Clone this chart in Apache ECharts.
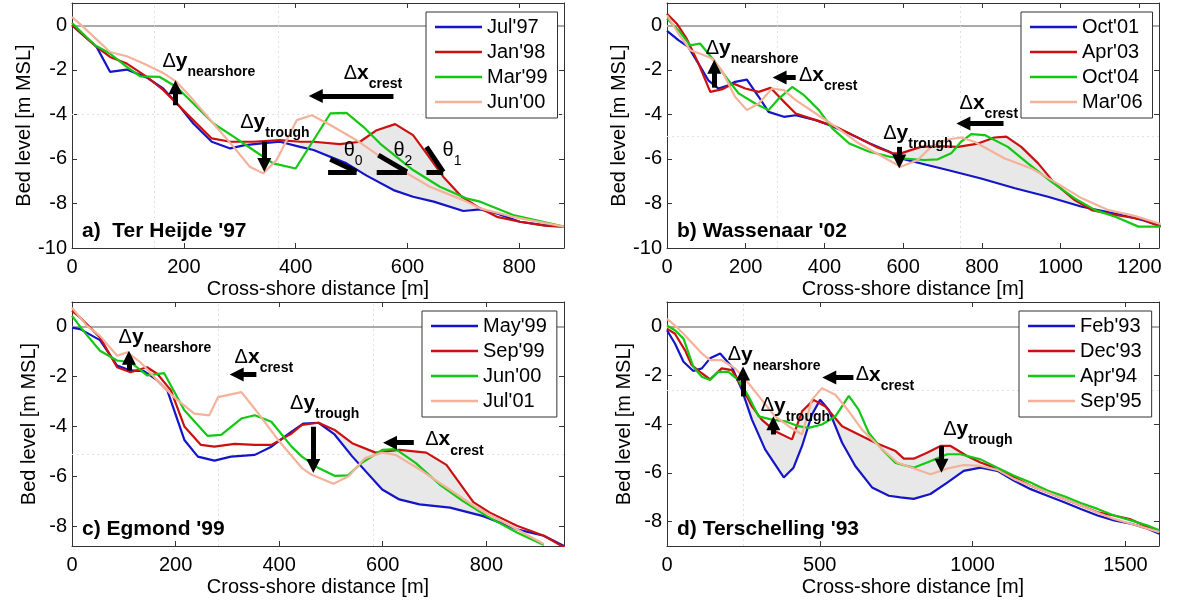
<!DOCTYPE html>
<html>
<head>
<meta charset="utf-8">
<script src="https://cdn.jsdelivr.net/npm/echarts@6/dist/echarts.min.js"></script>
<style>
  html, body { margin: 0; padding: 0; background: #fff; }
  #chart { width: 1200px; height: 600px; }
</style>
</head>
<body>
<div id="chart"></div>
<script>
const FONT = 'Liberation Sans, Arial, sans-serif'
const COLORS = ['#1414c8', '#cc1010', '#12c812', '#f4b29a']

// a) Ter Heijde '97
const namesA = ["Jul'97", "Jan'98", "Mar'99", "Jun'00"]
const jul97 = [[0,0],[44,-0.97],[68,-2.09],[98,-1.99],[134,-2.35],[163,-2.84],[193,-3.66],[217,-4.41],[250,-5.23],[283,-5.53],[309,-5.38],[348,-5.28],[372,-5.23],[408,-5.46],[432,-5.6],[491,-6.2],[527,-6.75],[575,-7.4],[610,-7.7],[647,-7.92],[700,-8.34],[730,-8.27],[760,-8.45],[801,-8.82],[843,-8.97],[880,-9.04]]
const jan98 = [[0,0],[44,-0.97],[68,-1.42],[98,-1.72],[134,-2.32],[163,-2.9],[193,-3.66],[223,-4.41],[250,-5.08],[283,-5.23],[324,-5.23],[372,-5.16],[408,-5.23],[432,-5.23],[479,-5.34],[515,-5.23],[545,-4.71],[578,-4.44],[610,-4.93],[634,-5.75],[664,-6.8],[697,-7.7],[730,-8.22],[760,-8.6],[801,-8.82],[849,-9.01],[880,-9.04]]
const mar99 = [[0,0.1],[41,-0.9],[68,-1.27],[98,-1.87],[122,-2.29],[157,-2.32],[187,-2.77],[217,-3.51],[253,-4.41],[289,-5.0],[324,-5.6],[360,-6.2],[400,-6.43],[462,-3.96],[491,-3.93],[521,-4.56],[551,-5.31],[610,-6.5],[658,-7.25],[705,-7.77],[730,-7.92],[789,-8.52],[880,-9.04]]
const jun00a = [[0,0.37],[20,-0.07],[68,-1.2],[98,-1.39],[128,-1.72],[163,-2.14],[187,-2.54],[217,-3.36],[253,-4.41],[289,-5.46],[318,-6.35],[342,-6.65],[366,-6.05],[390,-4.86],[402,-4.26],[429,-4.04],[462,-4.48],[509,-5.16],[539,-5.68],[569,-6.2],[640,-7.25],[700,-7.85],[730,-8.22],[789,-8.6],[880,-9.04]]

// b) Wassenaar '02
const namesB = ["Oct'01", "Apr'03", "Oct'04", "Mar'06"]
const oct01 = [[0,-0.25],[29,-0.67],[54,-0.97],[80,-1.72],[105,-2.47],[131,-2.84],[156,-2.69],[173,-2.54],[203,-2.44],[233,-3.21],[258,-3.89],[297,-4.11],[327,-4.04],[378,-4.26],[412,-4.48],[463,-4.86],[514,-5.3],[565,-5.68],[594,-5.98],[713,-6.5],[798,-6.88],[884,-7.32],[968,-7.7],[1054,-8.15],[1139,-8.45],[1207,-8.74],[1254,-9.01]]
const apr03 = [[0,0.52],[25,0.07],[50,-0.6],[80,-1.72],[110,-2.99],[139,-2.88],[169,-2.62],[199,-2.84],[233,-2.99],[263,-2.81],[293,-3.36],[327,-3.96],[378,-4.26],[429,-4.56],[480,-5.0],[531,-5.46],[573,-5.75],[594,-5.75],[645,-5.46],[688,-5.43],[739,-5.46],[790,-5.31],[832,-5.04],[862,-5.0],[900,-5.46],[943,-6.2],[985,-7.1],[1036,-7.85],[1079,-8.3],[1139,-8.52],[1207,-8.71],[1254,-9.04]]
const oct04 = [[0,0.3],[29,-0.22],[59,-0.9],[84,-0.82],[122,-1.64],[156,-2.47],[182,-3.06],[224,-3.51],[258,-3.81],[284,-3.29],[318,-2.77],[348,-3.14],[386,-3.81],[420,-4.63],[463,-5.31],[514,-5.68],[565,-5.9],[594,-5.98],[654,-6.05],[688,-6.02],[722,-5.75],[747,-5.23],[773,-4.89],[807,-4.93],[866,-5.46],[917,-6.2],[977,-7.03],[1036,-7.77],[1088,-8.3],[1139,-8.6],[1198,-9.04],[1254,-9.04]]
const mar06 = [[0,0.45],[29,-0.37],[59,-1.12],[88,-1.3],[114,-1.49],[139,-2.02],[173,-3.21],[203,-3.81],[233,-3.51],[267,-2.84],[297,-2.91],[327,-3.36],[378,-3.96],[429,-4.56],[488,-5.31],[548,-5.9],[594,-6.35],[637,-6.05],[671,-5.46],[713,-5.13],[747,-5.04],[781,-5.23],[858,-5.98],[926,-6.43],[985,-7.03],[1054,-7.77],[1122,-8.3],[1190,-8.57],[1254,-8.92]]

// c) Egmond '99
const namesC = ["May'99", "Sep'99", "Jun'00", "Jul'01"]
const may99 = [[0,-0.03],[16,-0.09],[54,-0.53],[87,-1.55],[113,-1.75],[139,-1.78],[165,-2.15],[184,-2.55],[217,-4.54],[243,-5.21],[275,-5.37],[307,-5.21],[353,-5.14],[385,-4.81],[424,-4.21],[447,-3.88],[476,-3.85],[507,-4.32],[541,-5.2],[599,-6.53],[632,-6.93],[671,-7.13],[730,-7.26],[794,-7.6],[859,-8.13],[911,-8.39],[950,-8.8]]
const sep99 = [[0,0.64],[16,0.37],[54,-0.42],[87,-1.62],[113,-1.82],[145,-1.62],[165,-1.89],[191,-2.55],[217,-4.0],[249,-4.74],[275,-4.81],[314,-4.7],[353,-4.74],[385,-4.74],[424,-4.28],[444,-3.94],[476,-3.85],[507,-4.14],[541,-4.67],[586,-5.05],[632,-4.94],[684,-5.05],[723,-5.54],[775,-7.04],[807,-7.46],[859,-7.99],[911,-8.39],[950,-8.85]]
const jun00c = [[0,0.44],[22,-0.16],[54,-0.96],[87,-1.35],[113,-1.42],[145,-1.95],[178,-1.86],[217,-3.35],[262,-4.38],[288,-4.34],[327,-3.68],[353,-3.55],[385,-3.81],[424,-4.81],[444,-5.21],[476,-5.67],[507,-5.98],[533,-5.96],[559,-5.47],[599,-4.94],[625,-4.91],[664,-5.47],[710,-6.33],[755,-7.0],[801,-7.6],[859,-8.26],[911,-8.76]]
const jul01 = [[0,0.77],[29,0.04],[54,-0.36],[87,-1.16],[107,-1.02],[132,-1.42],[165,-2.15],[197,-2.82],[236,-3.48],[265,-3.55],[282,-2.82],[327,-2.62],[360,-3.48],[398,-4.54],[444,-5.67],[463,-5.94],[505,-6.3],[534,-6.0],[566,-5.27],[599,-5.05],[625,-5.14],[677,-5.8],[729,-6.53],[781,-7.26],[859,-8.13],[911,-8.72]]

// d) Terschelling '93
const namesD = ["Feb'93", "Dec'93", "Apr'94", "Sep'95"]
const feb93 = [[0,-0.16],[26,-0.7],[54,-1.45],[86,-1.83],[114,-1.72],[141,-1.31],[174,-1.11],[212,-1.65],[245,-2.6],[278,-3.82],[321,-5.04],[382,-6.19],[414,-5.79],[442,-4.9],[474,-3.62],[501,-3.01],[529,-3.41],[573,-4.77],[616,-5.72],[671,-6.6],[726,-6.94],[764,-7.01],[807,-7.07],[862,-6.87],[917,-6.4],[971,-5.92],[1026,-5.79],[1081,-5.92],[1136,-6.33],[1190,-6.67],[1245,-6.94],[1300,-7.21],[1354,-7.48],[1409,-7.75],[1463,-7.95],[1518,-8.09],[1573,-8.29],[1611,-8.5]]
const dec93 = [[0,-0.09],[26,-0.3],[59,-0.98],[81,-1.59],[114,-1.92],[141,-2.17],[179,-1.72],[212,-1.79],[245,-2.47],[278,-3.28],[310,-3.82],[354,-4.3],[409,-4.63],[442,-3.48],[480,-3.01],[518,-3.28],[573,-4.09],[627,-4.43],[682,-4.77],[748,-5.11],[775,-5.42],[807,-5.42],[851,-5.18],[895,-4.9],[928,-4.9],[982,-5.31],[1026,-5.58],[1081,-5.83],[1136,-6.19],[1190,-6.53],[1245,-6.8],[1300,-7.07],[1354,-7.34],[1409,-7.62],[1463,-7.75],[1518,-7.91],[1573,-8.22],[1611,-8.43]]
const apr94 = [[0,0.04],[26,-0.16],[54,-0.5],[86,-1.65],[114,-2.06],[141,-2.2],[168,-1.86],[201,-1.86],[234,-2.2],[267,-2.87],[300,-3.69],[343,-3.82],[387,-3.89],[430,-4.09],[463,-4.16],[507,-4.02],[551,-3.69],[595,-2.85],[627,-3.41],[660,-4.36],[704,-5.04],[748,-5.6],[807,-5.79],[851,-5.58],[917,-5.24],[960,-5.24],[1026,-5.45],[1081,-5.79],[1136,-6.12],[1190,-6.4],[1245,-6.73],[1300,-6.96],[1354,-7.24],[1409,-7.48],[1463,-7.75],[1518,-7.95],[1573,-8.16],[1611,-8.36]]
const sep95 = [[0,0.31],[26,0.04],[54,-0.3],[114,-1.11],[141,-1.38],[179,-1.38],[223,-1.72],[267,-2.33],[310,-3.01],[354,-3.69],[398,-4.09],[442,-4.43],[474,-3.01],[507,-2.53],[551,-2.8],[595,-3.48],[638,-4.23],[693,-4.9],[753,-5.58],[862,-6.06],[917,-5.83],[971,-5.68],[1026,-5.72],[1081,-5.88],[1136,-6.26],[1190,-6.53],[1245,-6.8],[1300,-7.07],[1354,-7.34],[1409,-7.64],[1463,-7.89],[1518,-8.09],[1573,-8.29],[1611,-8.43]]

// shaded range between first (lower) and second (upper) profile
const fillA = [408, 730]
const fillB = [594, 1060]
const fillC = [507, 810]
const fillD = [245, 1030]

// annotation arrows [from, to], labels [main, subscript, x, y]
const arrowsA = [[[185,-3.59],[185,-2.78]], [[344,-5.23],[344,-6.27]], [[575,-3.18],[436,-3.18]]]
const labelsA = [['y','nearshore',161,-1.61], ['y','trough',300,-4.36], ['x','crest',485,-2.15]]
const thetaA = [[[462,-6.02],[509,-6.58],[458,-6.58]], [[548,-5.83],[599,-6.58],[545,-6.58]], [[634,-5.46],[664,-6.58],[634,-6.58]]]
const thetaLabelsA = [['0',485,-5.6], ['2',574,-5.6], ['1',662,-5.6]]
const arrowsB = [[[120,-2.8],[120,-1.86]], [[327,-2.35],[286,-2.35]], [[590,-5.46],[590,-6.12]], [[855,-4.41],[753,-4.41]]]
const labelsB = [['y','nearshore',97,-1.03], ['x','crest',334,-2.24], ['y','trough',548,-4.84], ['x','crest',742,-3.5]]
const arrowsC = [[[110,-1.75],[110,-1.24]], [[356,-1.91],[318,-1.91]], [[466,-4.01],[466,-5.59]], [[660,-4.65],[614,-4.65]]]
const labelsC = [['y','nearshore',89,-0.41], ['x','crest',313,-1.21], ['y','trough',420,-3.07], ['x','crest',681,-4.53]]
const arrowsD = [[[249,-2.87],[249,-1.93]], [[348,-4.43],[348,-3.97]], [[610,-2.09],[531,-2.09]], [[898,-4.9],[898,-5.71]]]
const labelsD = [['y','nearshore',197,-1.17], ['y','trough',305,-3.26], ['x','crest',616,-1.98], ['y','trough',902,-4.22]]

// faint dotted guide lines
const guidesA = { x: [148, 369], y: [-4] }
const guidesB = { x: [280, 745], y: [-5] }
const guidesC = { x: [282, 582], y: [-5.1] }
const guidesD = { x: [250], y: [-2.63] }

const panels = [
  { key: 'a', title: "a)  Ter Heijde '97", names: namesA, curves: [jul97, jan98, mar99, jun00a], fill: fillA,
    arrows: arrowsA, labels: labelsA, thetas: thetaA, thetaLabels: thetaLabelsA, guides: guidesA,
    grid: { left: 72, top: 3, width: 492, height: 245 }, xMax: 880, xInt: 200, yMin: -10, legendLeft: 426 },
  { key: 'b', title: "b) Wassenaar '02", names: namesB, curves: [oct01, apr03, oct04, mar06], fill: fillB,
    arrows: arrowsB, labels: labelsB, thetas: [], thetaLabels: [], guides: guidesB,
    grid: { left: 667, top: 3, width: 492, height: 245 }, xMax: 1250, xInt: 200, yMin: -10, legendLeft: 1021 },
  { key: 'c', title: "c) Egmond '99", names: namesC, curves: [may99, sep99, jun00c, jul01], fill: fillC,
    arrows: arrowsC, labels: labelsC, thetas: [], thetaLabels: [], guides: guidesC,
    grid: { left: 72, top: 302, width: 492, height: 244 }, xMax: 950, xInt: 200, yMin: -8.8, legendLeft: 422 },
  { key: 'd', title: "d) Terschelling '93", names: namesD, curves: [feb93, dec93, apr94, sep95], fill: fillD,
    arrows: arrowsD, labels: labelsD, thetas: [], thetaLabels: [], guides: guidesD,
    grid: { left: 667, top: 302, width: 492, height: 244 }, xMax: 1610, xInt: 500, yMin: -9, legendLeft: 1019 }
]

const axisLine = { show: true, onZero: false, lineStyle: { color: '#333', width: 1 } }
const axisTick = { show: true, inside: true, length: 5, lineStyle: { color: '#333' } }
const tickFont = { fontSize: 20, fontFamily: FONT, color: '#000' }

const rich = {
  d: { fontSize: 20, fontFamily: FONT, color: '#000' },
  v: { fontSize: 21, fontFamily: FONT, fontWeight: 'bold', color: '#000' },
  s: { fontSize: 14, fontFamily: FONT, fontWeight: 'bold', color: '#000', padding: [22, 0, 0, 0] },
  t: { fontSize: 20, fontFamily: FONT, color: '#000' },
  n: { fontSize: 14, fontFamily: FONT, color: '#000', padding: [22, 0, 0, 0] }
}

let grids = [], xAxes = [], yAxes = [], legends = [], titles = [], series = []

panels.forEach((p, gi) => {
  grids.push(p.grid)
  const xb = { gridIndex: gi, type: 'value', min: 0, max: p.xMax, interval: p.xInt, splitLine: { show: false }, axisLine, axisTick }
  xAxes.push({ ...xb, position: 'bottom',
    name: 'Cross-shore distance [m]', nameLocation: 'middle', nameGap: 31,
    nameTextStyle: { fontSize: 20, fontFamily: FONT, color: '#000' },
    axisLabel: { ...tickFont, margin: 9, formatter: v => (v % p.xInt === 0 ? String(v) : '') } })
  xAxes.push({ ...xb, position: 'top', axisLabel: { show: false } })
  const yb = { gridIndex: gi, type: 'value', min: p.yMin, max: 1, splitNumber: 5, splitLine: { show: false }, axisLine, axisTick }
  if (p.yMin === -10) yb.interval = 2
  yAxes.push({ ...yb, position: 'left',
    name: 'Bed level [m MSL]', nameLocation: 'middle', nameGap: 33,
    nameTextStyle: { fontSize: 20, fontFamily: FONT, color: '#000' },
    axisLabel: { ...tickFont, margin: 5, formatter: v => (Math.abs(v % 2) < 1e-6 ? String(v) : '') } })
  yAxes.push({ ...yb, position: 'right', axisLabel: { show: false } })

  titles.push({ text: p.title, left: p.grid.left + 5, top: p.grid.top + p.grid.height - 32,
    textStyle: { fontSize: 21, fontWeight: 'bold', fontFamily: FONT, color: '#000' } })

  legends.push({
    data: p.names.map(n => p.key + '|' + n),
    formatter: n => n.split('|')[1],
    orient: 'vertical', left: p.legendLeft, top: p.grid.top + 9,
    icon: 'rect', itemWidth: 47, itemHeight: 2.5, itemGap: 5,
    padding: [5, 10, 6, 9], borderColor: '#333', borderWidth: 1, backgroundColor: '#fff',
    selectedMode: false,
    textStyle: { fontSize: 20, fontFamily: FONT, color: '#000', lineHeight: 20 }
  })

  const axisIdx = { xAxisIndex: 2 * gi, yAxisIndex: 2 * gi }
  const lower = p.curves[0], upper = p.curves[1]

  series.push({
    type: 'custom', ...axisIdx, z: 1, silent: true,
    data: [[p.fill[0], 0]],
    renderItem: (params, api) => {
      const inside = pt => pt[0] >= p.fill[0] && pt[0] <= p.fill[1]
      const pts = upper.filter(inside).concat(lower.filter(inside).reverse())
      return { type: 'polygon', shape: { points: pts.map(pt => api.coord(pt)) }, style: { fill: '#e8e8e8', stroke: null } }
    }
  })

  p.curves.forEach((c, i) => {
    const s = {
      type: 'line', name: p.key + '|' + p.names[i], ...axisIdx, data: c,
      symbol: 'none', showSymbol: false, silent: true, z: 3,
      lineStyle: { width: 2.2, color: COLORS[i] }, itemStyle: { color: COLORS[i] }
    }
    if (i === 0) {
      s.markLine = {
        silent: true, z: 1, symbol: ['none', 'none'], label: { show: false },
        data: [{ yAxis: 0, lineStyle: { color: '#aaa', width: 2, type: 'solid' } }]
          .concat(p.guides.x.map(v => ({ xAxis: v })))
          .concat(p.guides.y.map(v => ({ yAxis: v }))),
        lineStyle: { color: '#e2e2e2', width: 1, type: [2, 3] }
      }
    }
    if (i === 3) {
      s.markLine = {
        silent: true, z: 10, symbol: ['none', 'triangle'], symbolSize: 14, label: { show: false },
        lineStyle: { color: '#000', width: 5, type: 'solid' }, itemStyle: { color: '#000' },
        data: p.arrows.map(a => [{ coord: a[0] }, { coord: a[1] }])
          .concat(p.thetas.flatMap(t => [
            [{ coord: t[0], symbol: 'none' }, { coord: t[1], symbol: 'none' }],
            [{ coord: t[2], symbol: 'none' }, { coord: t[1], symbol: 'none' }]
          ]))
      }
      s.markPoint = {
        silent: true, z: 11, symbol: 'rect', symbolSize: 1, itemStyle: { color: 'rgba(0,0,0,0)' },
        label: { show: true, position: 'right', distance: 0, rich },
        data: p.labels.map(l => ({ coord: [l[2], l[3]], label: { formatter: '{d|Δ}{v|' + l[0] + '}{s|' + l[1] + '}' } }))
          .concat(p.thetaLabels.map(l => ({ coord: [l[1], l[2]], label: { formatter: '{t|θ}{n|' + l[0] + '}' } })))
      }
    }
    series.push(s)
  })
})

const chart = echarts.init(document.getElementById('chart'))
chart.setOption({
  animation: false,
  backgroundColor: '#fff',
  title: titles,
  legend: legends,
  grid: grids,
  xAxis: xAxes,
  yAxis: yAxes,
  series
})
</script>
</body>
</html>
